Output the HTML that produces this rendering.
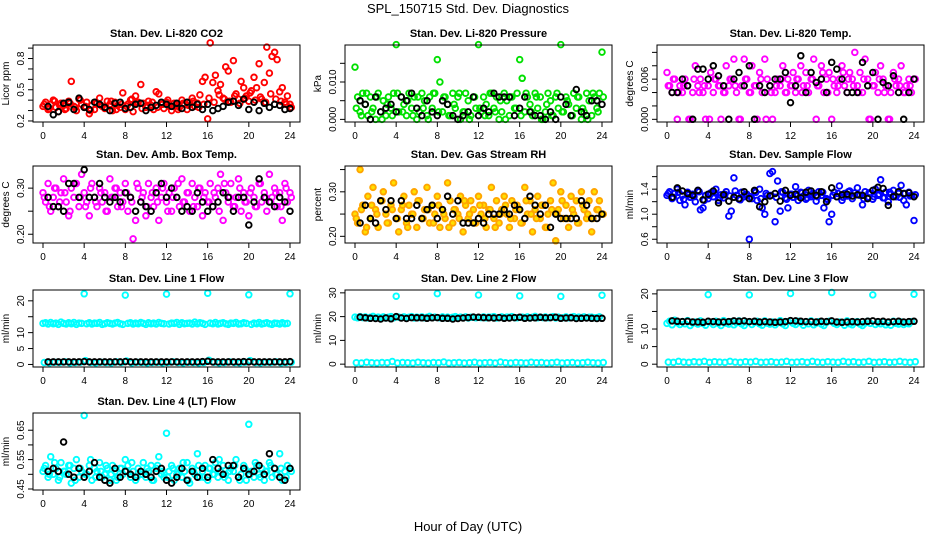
<!DOCTYPE html>
<html><head><meta charset="utf-8">
<style>
html,body{margin:0;padding:0;background:#fff;}
svg{display:block;font-family:"Liberation Sans",sans-serif;}
</style></head>
<body>
<svg id="chart" width="936" height="540" viewBox="0 0 936 540" xmlns="http://www.w3.org/2000/svg">
<text x="468" y="13" text-anchor="middle" font-size="13">SPL_150715  Std. Dev. Diagnostics</text>
<text x="468" y="531" text-anchor="middle" font-size="13">Hour of Day (UTC)</text>
</svg>
<script>
const co2A=[0.34,0.38,0.31,0.36,0.40,0.33,0.29,0.37,0.35,0.32,0.39,0.58,0.34,0.30,0.41,0.36,0.33,0.38,0.27,0.35,0.31,0.37,0.42,0.34,0.32,0.39,0.36,0.30,0.38,0.35,0.33,0.47,0.31,0.36,0.40,0.29,0.44,0.38,0.55,0.37,0.33,0.39,0.35,0.31,0.48,0.46,0.36,0.32,0.38,0.34,0.30,0.37,0.35,0.33,0.40,0.36,0.31,0.38,0.42,0.34,0.37,0.45,0.58,0.62,0.22,0.95,0.57,0.64,0.49,0.55,0.42,0.72,0.68,0.38,0.78,0.46,0.41,0.58,0.52,0.44,0.39,0.49,0.62,0.52,0.75,0.41,0.57,0.91,0.66,0.82,0.86,0.79,0.48,0.52,0.38,0.44,0.36];
const co2B=[0.36,0.32,0.39,0.35,0.31,0.37,0.33,0.40,0.34,0.30,0.38,0.35,0.33,0.39,0.31,0.36,0.34,0.41,0.37,0.32,0.35,0.38,0.33,0.36,0.40,0.34,0.31,0.37,0.35,0.39,0.33,0.36,0.42,0.38,0.45,0.41,0.39,0.44,0.37,0.42,0.47,0.40,0.43,0.38,0.46,0.41,0.39,0.36,0.33];
const co2K=[0.34,0.26,0.29,0.37,0.38,0.31,0.42,0.33,0.31,0.38,0.36,0.33,0.30,0.37,0.38,0.32,0.33,0.36,0.37,0.30,0.33,0.35,0.38,0.36,0.34,0.37,0.32,0.38,0.33,0.36,0.31,0.36,0.30,0.32,0.34,0.38,0.39,0.35,0.41,0.31,0.38,0.30,0.37,0.33,0.36,0.35,0.31,0.32];
const presA=[0.014,0.006,0.002,0.007,0.004,0.001,0.006,0.003,0.000,0.007,0.002,0.005,0.001,0.006,0.003,0.007,0.020,0.002,0.006,0.004,0.001,0.007,0.003,0.006,0.000,0.002,0.007,0.005,0.001,0.006,0.003,0.007,0.016,0.010,0.002,0.006,0.004,0.001,0.007,0.003,0.006,0.000,0.002,0.007,0.005,0.001,0.006,0.003,0.020,0.002,0.006,0.004,0.001,0.007,0.003,0.006,0.000,0.002,0.007,0.005,0.001,0.006,0.003,0.007,0.016,0.011,0.002,0.006,0.004,0.001,0.007,0.003,0.006,0.000,0.002,0.007,0.005,0.001,0.006,0.003,0.020,0.002,0.006,0.004,0.001,0.007,0.003,0.006,0.000,0.002,0.007,0.005,0.001,0.006,0.003,0.007,0.018];
const presB=[0.003,0.001,0.007,0.002,0.006,0.000,0.004,0.001,0.007,0.002,0.005,0.001,0.006,0.003,0.000,0.007,0.002,0.006,0.001,0.004,0.007,0.002,0.000,0.006,0.003,0.001,0.007,0.002,0.005,0.000,0.006,0.003,0.001,0.007,0.002,0.006,0.000,0.004,0.001,0.007,0.002,0.005,0.001,0.006,0.003,0.000,0.007,0.002,0.006];
const presK=[0.005,0.004,0.000,0.006,0.002,0.003,0.004,0.002,0.006,0.005,0.007,0.003,0.001,0.005,0.002,0.001,0.005,0.004,0.001,0.000,0.001,0.002,0.006,0.001,0.003,0.002,0.007,0.006,0.006,0.006,0.001,0.003,0.006,0.002,0.001,0.001,0.000,0.002,0.000,0.006,0.004,0.001,0.008,0.002,0.001,0.005,0.005,0.004];
const tempA=[0.007,0.005,0.004,0.006,0.000,0.005,0.004,0.006,0.005,0.000,0.004,0.008,0.005,0.006,0.004,0.000,0.005,0.007,0.004,0.006,0.005,0.000,0.004,0.008,0.005,0.006,0.009,0.004,0.000,0.005,0.009,0.006,0.004,0.008,0.005,0.000,0.007,0.004,0.009,0.006,0.005,0.000,0.004,0.006,0.005,0.008,0.004,0.006,0.005,0.007,0.004,0.006,0.008,0.005,0.007,0.004,0.006,0.009,0.000,0.005,0.008,0.004,0.006,0.007,0.000,0.005,0.004,0.006,0.008,0.005,0.004,0.007,0.006,0.010,0.005,0.007,0.004,0.009,0.006,0.000,0.005,0.007,0.004,0.008,0.006,0.005,0.000,0.004,0.007,0.005,0.006,0.008,0.004,0.005,0.006,0.004,0.006];
const tempB=[0.005,0.006,0.004,0.005,0.000,0.006,0.004,0.005,0.000,0.006,0.005,0.004,0.006,0.005,0.000,0.006,0.004,0.005,0.006,0.000,0.004,0.005,0.006,0.004,0.005,0.006,0.004,0.005,0.006,0.005,0.007,0.004,0.006,0.005,0.007,0.006,0.005,0.004,0.006,0.000,0.005,0.006,0.004,0.000,0.006,0.005,0.004,0.005,0.006];
const tempK=[0.004,0.004,0.006,0.005,0.000,0.0075,0.0075,0.006,0.0080,0.0065,0.005,0.000,0.006,0.0070,0.005,0.008,0.000,0.005,0.004,0.005,0.006,0.006,0.007,0.0025,0.005,0.0095,0.004,0.0070,0.0055,0.006,0.004,0.0085,0.0075,0.006,0.004,0.004,0.004,0.0085,0.005,0.0070,0.000,0.0055,0.005,0.0065,0.004,0.000,0.004,0.006];
const ambA=[0.29,0.27,0.31,0.25,0.28,0.30,0.26,0.29,0.32,0.27,0.24,0.30,0.28,0.31,0.26,0.33,0.29,0.27,0.24,0.31,0.28,0.26,0.30,0.27,0.29,0.25,0.32,0.28,0.30,0.26,0.29,0.27,0.31,0.25,0.28,0.19,0.23,0.30,0.27,0.29,0.24,0.31,0.28,0.26,0.30,0.23,0.28,0.31,0.27,0.29,0.25,0.30,0.28,0.26,0.32,0.27,0.29,0.25,0.31,0.28,0.26,0.30,0.24,0.29,0.27,0.31,0.26,0.28,0.30,0.33,0.23,0.29,0.27,0.31,0.26,0.28,0.32,0.25,0.29,0.27,0.24,0.30,0.28,0.26,0.31,0.27,0.29,0.25,0.33,0.28,0.30,0.26,0.29,0.23,0.31,0.27,0.29];
const ambB=[0.28,0.26,0.30,0.27,0.29,0.25,0.31,0.28,0.26,0.30,0.27,0.29,0.25,0.28,0.30,0.26,0.29,0.27,0.31,0.28,0.26,0.29,0.27,0.30,0.25,0.28,0.31,0.27,0.29,0.26,0.30,0.28,0.27,0.29,0.25,0.31,0.28,0.26,0.30,0.27,0.29,0.26,0.31,0.28,0.27,0.29,0.26,0.30,0.28];
const ambK=[0.28,0.26,0.26,0.25,0.31,0.31,0.28,0.34,0.28,0.28,0.31,0.28,0.27,0.28,0.27,0.29,0.28,0.25,0.27,0.26,0.25,0.29,0.31,0.28,0.30,0.28,0.25,0.26,0.25,0.29,0.27,0.25,0.26,0.27,0.29,0.28,0.25,0.28,0.28,0.22,0.27,0.32,0.28,0.27,0.26,0.28,0.27,0.25];
const rhA=[0.25,0.23,0.35,0.27,0.21,0.29,0.24,0.31,0.26,0.22,0.28,0.30,0.25,0.23,0.27,0.32,0.24,0.21,0.26,0.29,0.23,0.27,0.25,0.30,0.22,0.28,0.24,0.26,0.31,0.23,0.27,0.25,0.29,0.22,0.26,0.24,0.32,0.28,0.23,0.26,0.25,0.29,0.21,0.27,0.24,0.28,0.26,0.23,0.29,0.25,0.27,0.22,0.26,0.31,0.24,0.28,0.23,0.26,0.29,0.25,0.22,0.28,0.24,0.27,0.26,0.23,0.31,0.25,0.28,0.21,0.26,0.29,0.24,0.27,0.22,0.25,0.28,0.32,0.19,0.26,0.30,0.24,0.27,0.22,0.29,0.25,0.28,0.23,0.30,0.26,0.24,0.28,0.21,0.30,0.26,0.28,0.25];
const rhB=[0.24,0.26,0.22,0.27,0.25,0.28,0.23,0.26,0.24,0.27,0.22,0.25,0.28,0.24,0.26,0.23,0.27,0.25,0.22,0.26,0.24,0.28,0.25,0.23,0.27,0.24,0.26,0.22,0.25,0.27,0.24,0.26,0.23,0.28,0.25,0.24,0.27,0.22,0.26,0.25,0.28,0.24,0.26,0.23,0.27,0.25,0.24,0.26,0.25];
const rhK=[0.23,0.27,0.24,0.23,0.28,0.26,0.28,0.24,0.28,0.24,0.24,0.27,0.24,0.26,0.27,0.24,0.26,0.29,0.25,0.28,0.23,0.23,0.23,0.24,0.23,0.25,0.25,0.25,0.26,0.25,0.27,0.26,0.24,0.29,0.27,0.25,0.27,0.22,0.25,0.24,0.24,0.24,0.24,0.28,0.27,0.24,0.24,0.25];
const flowA=[1.30,1.36,1.25,1.33,1.40,1.22,1.30,1.15,1.35,1.27,1.32,1.20,1.38,1.07,1.10,1.30,1.25,1.34,1.28,1.40,1.22,1.31,1.26,1.36,0.97,1.05,1.58,1.30,1.24,1.35,1.28,1.32,0.60,1.25,1.37,1.22,1.40,1.10,1.00,1.30,1.65,1.68,0.88,1.53,1.05,1.35,1.26,1.10,1.32,1.27,1.44,1.22,1.35,1.29,1.24,1.38,1.28,1.33,1.21,1.36,1.30,1.10,1.25,0.88,1.00,1.35,1.28,1.45,1.22,1.33,1.29,1.37,1.25,1.34,1.42,1.30,1.15,1.36,1.27,1.33,1.24,1.40,1.30,1.55,1.26,1.35,1.20,1.32,1.38,1.28,1.33,1.46,1.22,1.15,1.35,1.30,0.90];
const flowB=[1.33,1.27,1.35,1.24,1.31,1.28,1.36,1.22,1.30,1.34,1.26,1.32,1.29,1.37,1.23,1.31,1.28,1.35,1.25,1.33,1.30,1.27,1.36,1.24,1.32,1.29,1.34,1.26,1.31,1.28,1.35,1.23,1.30,1.33,1.27,1.36,1.29,1.31,1.25,1.34,1.28,1.32,1.26,1.35,1.30,1.27,1.33,1.29,1.31];
const flowK=[1.27,1.42,1.37,1.33,1.30,1.38,1.23,1.32,1.37,1.18,1.31,1.21,1.27,1.25,1.36,1.25,1.38,1.12,1.20,1.29,1.33,1.21,1.38,1.30,1.32,1.26,1.35,1.37,1.30,1.36,1.20,1.42,1.28,1.31,1.32,1.29,1.31,1.30,1.25,1.38,1.43,1.41,1.14,1.28,1.36,1.33,1.34,1.28];
const l1A=[12.9,13.1,12.7,13.2,12.8,13.0,12.6,13.3,12.9,12.7,13.1,12.8,13.2,12.6,13.0,12.9,22.2,12.8,13.1,12.7,13.0,12.9,13.2,12.6,12.8,13.1,12.9,12.7,13.0,13.2,12.8,12.6,21.8,12.9,13.1,12.7,13.0,12.8,13.2,12.9,12.6,13.1,12.8,13.0,12.7,13.2,12.9,12.8,22.1,12.7,13.0,12.9,13.2,12.6,13.1,12.8,12.9,13.0,12.7,13.3,12.8,13.1,12.9,12.6,22.4,13.0,12.8,13.2,12.7,12.9,13.1,12.8,12.6,13.0,12.9,13.2,12.7,12.8,13.1,12.9,21.9,12.6,13.0,12.8,13.2,12.7,12.9,13.1,12.8,12.6,13.0,12.9,12.7,13.1,12.8,12.9,22.2];
const l1B=[0.6,0.5,0.7,0.6,0.8,0.5,0.6,0.7,1.2,0.6,0.5,0.7,0.6,0.5,0.8,0.6,1.1,0.5,0.7,0.6,0.5,0.6,0.7,0.5,0.6,0.8,0.6,0.5,0.7,0.6,0.5,0.6,1.3,0.7,0.5,0.6,0.8,0.6,0.5,0.7,1.2,0.6,0.5,0.7,0.6,0.8,0.5,0.6,0.7];
const l1K=[0.8,0.8,0.8,0.8,0.8,0.8,0.8,0.9,0.8,0.8,0.8,0.8,0.8,0.8,0.8,0.9,0.8,0.8,0.8,0.8,0.8,0.8,0.8,0.8,0.8,0.8,0.8,0.8,0.8,0.8,0.9,1.0,0.8,0.8,0.8,0.8,0.8,0.8,0.9,0.8,0.8,0.8,0.8,0.8,0.8,0.8,0.8,0.9];
const l2A=[19.8,19.5,20.0,19.6,19.9,19.4,19.7,20.1,19.5,19.8,19.6,19.9,19.4,19.7,20.0,19.5,28.6,19.8,19.6,19.9,19.5,19.7,20.0,19.4,19.8,19.6,19.9,19.5,19.7,20.1,19.6,19.8,29.7,19.5,19.9,19.6,19.8,19.4,19.7,20.0,19.5,19.8,19.6,19.9,19.4,19.7,19.8,19.5,29.1,19.6,19.9,19.5,19.8,19.7,20.0,19.4,19.6,19.9,19.5,19.8,19.7,20.0,19.6,19.5,28.7,19.8,19.6,19.9,19.4,19.7,20.1,19.5,19.8,19.6,19.9,19.5,19.7,20.0,19.4,19.8,28.5,19.6,19.9,19.5,19.7,20.0,19.4,19.8,19.6,19.9,19.5,19.7,19.8,19.5,19.6,19.9,29.0];
const l2B=[0.6,0.5,0.8,0.6,0.5,0.7,0.6,1.1,0.5,0.7,0.6,0.5,0.8,0.6,0.5,0.7,0.6,0.9,0.5,0.6,0.7,0.5,0.6,0.8,0.5,0.6,0.7,0.5,0.9,0.6,0.5,0.7,0.6,0.5,0.8,0.6,0.7,0.5,0.6,0.8,0.5,0.6,0.7,0.5,0.6,0.8,0.6,0.5,0.7];
const l2K=[19.8,19.5,19.3,19.2,19.0,19.4,19.1,20.0,19.4,19.2,19.6,19.5,19.5,19.3,19.5,19.6,19.3,19.3,19.0,19.2,19.4,19.6,19.8,19.7,19.6,19.5,19.4,19.6,19.3,19.4,19.6,19.7,19.3,19.4,19.5,19.7,19.5,19.6,19.7,19.3,19.4,19.5,19.2,19.3,19.4,19.3,19.2,19.3];
const l3A=[11.6,12.2,11.2,12.5,11.8,11.3,12.1,11.5,12.4,11.0,11.7,12.0,11.4,12.3,11.6,11.1,19.8,11.9,11.3,12.2,11.6,11.0,12.4,11.7,11.4,12.1,11.2,11.8,12.3,11.5,11.0,12.0,19.7,11.3,11.9,12.2,11.5,11.1,12.3,11.7,11.4,12.0,11.2,11.8,12.4,11.5,11.0,12.1,20.1,11.6,11.3,12.2,11.8,11.1,12.0,11.5,12.3,11.2,11.7,12.1,11.4,11.0,11.9,12.2,20.4,11.6,11.3,12.0,11.8,11.1,12.3,11.5,11.2,11.9,12.1,11.4,11.0,11.7,12.2,11.6,19.7,11.3,11.9,11.5,12.0,11.2,11.8,11.1,12.2,11.6,11.4,12.0,11.3,11.7,11.5,12.1,19.9];
const l3B=[0.6,0.5,0.8,0.6,0.5,0.7,0.6,0.8,0.5,0.7,0.6,0.5,0.8,0.6,0.5,0.7,0.6,0.8,0.5,0.6,0.7,0.5,0.6,0.8,0.5,0.6,0.7,0.5,0.8,0.6,0.5,0.7,0.6,0.5,0.8,0.6,0.7,0.5,0.6,0.8,0.5,0.6,0.7,0.5,0.6,0.8,0.6,0.5,0.7];
const l3K=[12.3,12.2,12.1,12.2,12.0,12.0,11.9,12.2,12.1,12.0,12.0,12.1,12.3,12.2,12.3,12.1,12.2,12.0,12.1,12.0,11.9,12.0,12.1,12.4,12.3,12.2,12.1,12.1,12.0,12.2,12.1,12.3,12.0,11.9,12.0,12.1,12.0,12.1,12.2,12.3,12.1,12.2,12.0,12.1,12.2,12.0,12.1,12.2];
const l4A=[0.51,0.53,0.49,0.56,0.50,0.52,0.48,0.54,0.51,0.50,0.53,0.47,0.52,0.55,0.49,0.51,0.70,0.50,0.53,0.48,0.52,0.51,0.54,0.49,0.50,0.52,0.48,0.53,0.51,0.49,0.52,0.50,0.55,0.53,0.49,0.51,0.48,0.52,0.50,0.54,0.49,0.51,0.53,0.48,0.52,0.56,0.50,0.49,0.64,0.51,0.53,0.48,0.50,0.52,0.49,0.51,0.54,0.47,0.52,0.50,0.57,0.49,0.51,0.53,0.48,0.52,0.50,0.54,0.49,0.51,0.53,0.50,0.48,0.52,0.51,0.55,0.49,0.50,0.53,0.48,0.67,0.51,0.49,0.53,0.50,0.52,0.48,0.51,0.54,0.49,0.52,0.50,0.57,0.48,0.51,0.53,0.52];
const l4B=[0.52,0.50,0.54,0.49,0.51,0.53,0.48,0.52,0.50,0.55,0.49,0.51,0.53,0.50,0.48,0.52,0.51,0.54,0.49,0.50,0.52,0.48,0.53,0.51,0.49,0.52,0.50,0.54,0.48,0.51,0.53,0.49,0.52,0.50,0.55,0.49,0.51,0.53,0.48,0.52,0.50,0.54,0.49,0.51,0.53,0.50,0.52,0.49,0.51];
const l4K=[0.51,0.52,0.51,0.61,0.50,0.49,0.52,0.49,0.51,0.54,0.49,0.48,0.47,0.52,0.49,0.51,0.50,0.49,0.51,0.50,0.49,0.51,0.52,0.48,0.47,0.49,0.52,0.48,0.51,0.49,0.52,0.49,0.55,0.52,0.50,0.53,0.53,0.49,0.52,0.50,0.51,0.53,0.50,0.57,0.52,0.49,0.48,0.52];

const xTicks=[0,4,8,12,16,20,24];
const xTickLabels=["0","4","8","12","16","20","24"];

const co2Ticks=[0.2,0.3,0.4,0.5,0.6,0.7,0.8,0.9];
const co2Labels=["0.2","","","0.5","","","0.8",""];
const presTicks=[0,0.005,0.010,0.015];
const presLabels=["0.000","","0.010",""];
const tempTicks=[0,0.002,0.004,0.006,0.008,0.010];
const tempLabels=["0.000","","","0.006","",""];
const ambTicks=[0.20,0.25,0.30];
const ambLabels=["0.20","","0.30"];
const rhTicks=[0.20,0.25,0.30,0.35];
const rhLabels=["0.20","","0.30",""];
const flowTicks=[0.6,0.8,1.0,1.2,1.4,1.6];
const flowLabels=["0.6","","1.0","","1.4",""];
const l1Ticks=[0,5,10,15,20];
const l1Labels=["0","5","10","","20"];
const l2Ticks=[0,10,20,30];
const l2Labels=["0","10","20","30"];
const l3Ticks=[0,5,10,15,20];
const l3Labels=["0","5","10","","20"];
const l4Ticks=[0.45,0.50,0.55,0.60,0.65];
const l4Labels=["0.45","","0.55","","0.65"];

const colLeft=[33,345,657], rowTop=[45,166,290,413], boxW=267, boxH=77;
const panels=[
 {n:"co2",t:"Stan. Dev. Li-820 CO2",u:"Licor ppm",c:0,r:0,lo:0.19,hi:0.93,col:"#ff0000",fill:"none",A:co2A,B:co2B,K:co2K,ticks:co2Ticks,labs:co2Labels},
 {n:"pressure",t:"Stan. Dev. Li-820 Pressure",u:"kPa",c:1,r:0,lo:-0.0007,hi:0.0199,col:"#00e000",fill:"none",A:presA,B:presB,K:presK,ticks:presTicks,labs:presLabels},
 {n:"temp",t:"Stan. Dev. Li-820 Temp.",u:"degrees C",c:2,r:0,lo:-0.0004,hi:0.0111,col:"#ff00ff",fill:"none",A:tempA,B:tempB,K:tempK,ticks:tempTicks,labs:tempLabels},
 {n:"amb-box-temp",t:"Stan. Dev. Amb. Box Temp.",u:"degrees C",c:0,r:1,lo:0.181,hi:0.348,col:"#ff00ff",fill:"none",A:ambA,B:ambB,K:ambK,ticks:ambTicks,labs:ambLabels},
 {n:"gas-stream-rh",t:"Stan. Dev. Gas Stream RH",u:"percent",c:1,r:1,lo:0.185,hi:0.358,col:"#ffa500",fill:"#ffe000",A:rhA,B:rhB,K:rhK,ticks:rhTicks,labs:rhLabels},
 {n:"sample-flow",t:"Stan. Dev. Sample Flow",u:"ml/min",c:2,r:1,lo:0.54,hi:1.77,col:"#0000ff",fill:"none",A:flowA,B:flowB,K:flowK,ticks:flowTicks,labs:flowLabels},
 {n:"line1-flow",t:"Stan. Dev. Line 1 Flow",u:"ml/min",c:0,r:2,lo:-0.8,hi:23.4,col:"#00ffff",fill:"none",A:l1A,B:l1B,K:l1K,ticks:l1Ticks,labs:l1Labels},
 {n:"line2-flow",t:"Stan. Dev. Line 2 Flow",u:"ml/min",c:1,r:2,lo:-1.2,hi:31.2,col:"#00ffff",fill:"none",A:l2A,B:l2B,K:l2K,ticks:l2Ticks,labs:l2Labels},
 {n:"line3-flow",t:"Stan. Dev. Line 3 Flow",u:"ml/min",c:2,r:2,lo:-0.8,hi:21.1,col:"#00ffff",fill:"none",A:l3A,B:l3B,K:l3K,ticks:l3Ticks,labs:l3Labels},
 {n:"line4-flow",t:"Stan. Dev. Line 4 (LT) Flow",u:"ml/min",c:0,r:3,lo:0.4466,hi:0.7086,col:"#00ffff",fill:"none",A:l4A,B:l4B,K:l4K,ticks:l4Ticks,labs:l4Labels}
];
const svg=document.getElementById('chart');
const NS="http://www.w3.org/2000/svg";
function mk(tag,attrs,parent){const e=document.createElementNS(NS,tag);for(const k in attrs)e.setAttribute(k,attrs[k]);parent.appendChild(e);return e;}
panels.forEach(p=>{
 const L=colLeft[p.c], T=rowTop[p.r], B=T+boxH;
 const g=mk('g',{},svg);
 
 
 const xs=h=>L+10+h/24*247;
 const ys=v=>B-(v-p.lo)/(p.hi-p.lo)*boxH;
 const tt=mk('text',{x:L+boxW/2,y:T-8,'text-anchor':'middle','font-size':'11','font-weight':'bold'},g);
 tt.textContent=p.t;
 
 
 const pts=mk('g',{'stroke-width':'1.9'},g);
 
 
 const dot=(x,y,c,f)=>mk('circle',{cx:x.toFixed(1),cy:y.toFixed(1),r:'2.8',stroke:c,fill:f},pts);
 p.A.forEach((v,i)=>{const e=dot(xs(i*0.25),ys(v),p.col,p.fill);
  
  });
 p.B.forEach((v,i)=>{const e=dot(xs(i*0.5+0.125),ys(v),p.col,p.fill);
  
  });
 p.K.forEach((v,i)=>{const e=dot(xs((i+1)*0.5),ys(v),'#000','none');
  
  });
 const box=mk('rect',{x:L,y:T,width:boxW,height:boxH,fill:'none',stroke:'#000','stroke-width':'1'},g);
 
 
 xTicks.forEach((h,i)=>{
  mk('line',{x1:xs(h),x2:xs(h),y1:B,y2:B+5,stroke:'#000'},g);
  const t=mk('text',{x:xs(h),y:B+17,'text-anchor':'middle','font-size':'10'},g);
  t.textContent=xTickLabels[i];
  
  
 });
 p.ticks.forEach((v,i)=>{
  const y=ys(v);
  mk('line',{x1:L,x2:L-5,y1:y,y2:y,stroke:'#000'},g);
  if(p.labs[i]){const t=mk('text',{x:L-9,y:y,'text-anchor':'middle','font-size':'10',transform:`rotate(-90 ${L-9} ${y})`},g);
   t.textContent=p.labs[i];
   
   }
 });
 const yl=mk('text',{x:L-24,y:T+boxH/2,'text-anchor':'middle','font-size':'10',transform:`rotate(-90 ${L-24} ${T+boxH/2})`},g);
 yl.textContent=p.u;
 
 
});
</script>
</body></html>
